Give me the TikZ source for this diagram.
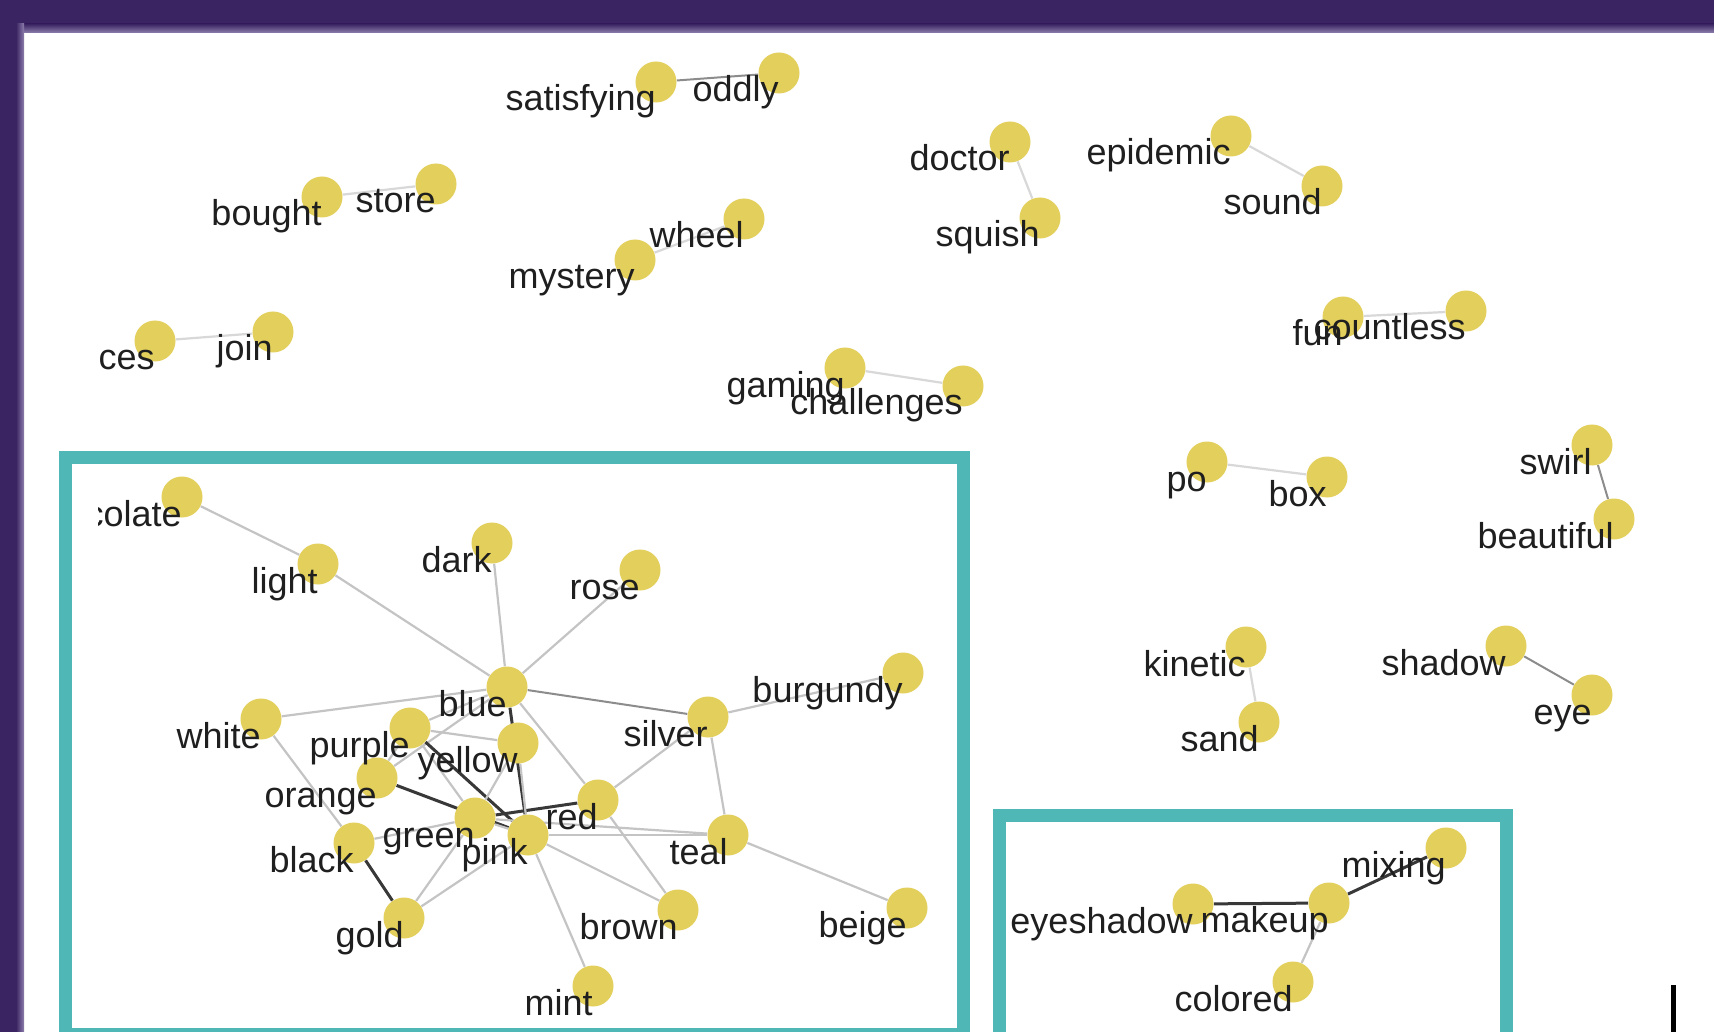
\documentclass[tikz,border=0pt]{standalone}
\usepackage{fontspec}
\setmainfont{Liberation Sans}
\definecolor{framepurple}{HTML}{3B2462}
\definecolor{fadepurple}{HTML}{8E80AE}
\definecolor{tealc}{HTML}{50B7B7}
\definecolor{nodeyel}{HTML}{E3CF5B}
\definecolor{labelgray}{HTML}{1F1F1F}
\definecolor{edgelite}{HTML}{C4C4C4}
\definecolor{edgefaint}{HTML}{D8D8D8}
\definecolor{edgemid}{HTML}{8C8C8C}
\definecolor{edgedark}{HTML}{383838}
\pgfdeclarelayer{background}
\pgfdeclarelayer{foreground}
\pgfsetlayers{background,main,foreground}
\begin{document}
\begin{tikzpicture}[x=0.5pt,y=-0.5pt,
  dot/.style={circle,fill=nodeyel,draw=none,minimum size=20.5pt,inner sep=0pt},
  lbl/.style={anchor=base east,inner sep=0pt,text=labelgray,font=\fontsize{18}{20}\selectfont},
  lite/.style={draw=edgelite,line width=1.1pt},
  faint/.style={draw=edgefaint,line width=1.1pt},
  mid/.style={draw=edgemid,line width=1pt},
  heavy/.style={draw=edgedark,line width=1.5pt},
  boxframe/.style={draw=tealc,line width=6.5pt}]
\useasboundingbox (0,0) rectangle (1714,1032);
\clip (0,0) rectangle (1714,1032);
\begin{pgfonlayer}{background}
% background and slide frame
\fill[white] (0,0) rectangle (1714,1032);
\fill[framepurple] (0,0) rectangle (1714,24);
\fill[framepurple] (0,0) rectangle (16,1032);
\shade[top color=framepurple,bottom color=fadepurple] (16,24) rectangle (1714,33);
\shade[left color=framepurple,right color=fadepurple] (16,24) rectangle (24,1032);
% highlight boxes
\draw[boxframe] (65.5,457.5) rectangle (963.5,1034);
\draw[boxframe] (999,815.5) rectangle (1506.5,1040);
\fill[black] (1671,985) rectangle (1676,1032);
\end{pgfonlayer}
% word nodes
\foreach \n/\p in {satisfying/{656,82},oddly/{779,73},bought/{322,197},store/{436,184},
  wheel/{744,219},mystery/{635,260},doctor/{1010,142},squish/{1040,218},
  epidemic/{1231,136},sound/{1322,186},forces/{155,341},join/{273,332},
  gaming/{845,368},challenges/{963,386},fun/{1343,317},countless/{1466,311},
  po/{1207,462},box/{1327,477},swirl/{1592,445},beautiful/{1614,519},
  kinetic/{1246,647},sand/{1259,722},shadow/{1506,646},eye/{1592,695},
  chocolate/{182,497},light/{318,564},dark/{492,543},rose/{640,570},
  blue/{507,687},white/{261,719},purple/{410,728},yellow/{518,743},
  silver/{708,717},burgundy/{903,673},orange/{377,778},red/{598,800},
  green/{475,818},pink/{528,835},teal/{728,835},black/{354,843},
  gold/{404,918},brown/{678,910},beige/{907,908},mint/{593,986},
  mixing/{1446,848},makeup/{1329,903},eyeshadow/{1193,904},colored/{1293,982}}
  {\node[dot] (\n) at (\p) {};}
% labels
\begin{pgfonlayer}{foreground}
\foreach \n in {satisfying,oddly,bought,store,wheel,mystery,doctor,squish,
  epidemic,sound,join,gaming,challenges,fun,countless,po,box,swirl,beautiful,
  kinetic,sand,shadow,eye,light,dark,rose,blue,white,purple,yellow,silver,
  burgundy,orange,red,green,pink,teal,black,gold,brown,beige,mint,mixing,
  makeup,eyeshadow,colored}
  {\path (\n.center) ++(0,29) node[lbl] (\n-t) {\n};}
\begin{scope}
\clip (98,0) rectangle (1714,1032);
\path (forces.center) ++(0,29) node[lbl] (forces-t) {forces};
\path (chocolate.center) ++(0,29) node[lbl] (chocolate-t) {chocolate};
\end{scope}
\end{pgfonlayer}
% connectors
\begin{pgfonlayer}{background}
\draw[mid] (satisfying) -- (oddly);
\draw[faint] (bought) -- (store);
\draw[faint] (mystery) -- (wheel);
\draw[faint] (doctor) -- (squish);
\draw[faint] (epidemic) -- (sound);
\draw[faint] (forces) -- (join);
\draw[faint] (gaming) -- (challenges);
\draw[faint] (fun) -- (countless);
\draw[faint] (po) -- (box);
\draw[mid] (swirl) -- (beautiful);
\draw[faint] (kinetic) -- (sand);
\draw[mid] (shadow) -- (eye);
\draw[heavy] (eyeshadow) -- (makeup);
\draw[heavy] (makeup) -- (mixing);
\draw[lite] (makeup) -- (colored);
% colour cluster
\draw[lite] (chocolate) -- (light);
\draw[lite] (light) -- (blue);
\draw[lite] (dark) -- (blue);
\draw[lite] (rose) -- (blue);
\draw[lite] (white) -- (blue);
\draw[lite] (purple) -- (blue);
\draw[lite] (orange) -- (blue);
\draw[lite] (blue) -- (red);
\draw[mid] (blue) -- (silver);
\draw[heavy] (blue) -- (pink);
\draw[heavy] (green) -- (red);
\draw[heavy] (purple) -- (pink);
\draw[heavy] (orange) -- (pink);
\draw[lite] (purple) -- (yellow);
\draw[lite] (purple) -- (green);
\draw[lite] (yellow) -- (green);
\draw[lite] (yellow) -- (pink);
\draw[lite] (orange) -- (purple);
\draw[lite] (silver) -- (burgundy);
\draw[lite] (silver) -- (red);
\draw[lite] (silver) -- (teal);
\draw[lite] (teal) -- (beige);
\draw[lite] (teal) -- (pink);
\draw[lite] (teal) -- (green);
\draw[lite] (red) -- (brown);
\draw[lite] (pink) -- (brown);
\draw[lite] (pink) -- (mint);
\draw[lite] (pink) -- (gold);
\draw[lite] (green) -- (gold);
\draw[lite] (green) -- (pink);
\draw[lite] (black) -- (green);
\draw[lite] (white) -- (black);
\draw[heavy] (black) -- (gold);
\end{pgfonlayer}
\end{tikzpicture}
\end{document}
